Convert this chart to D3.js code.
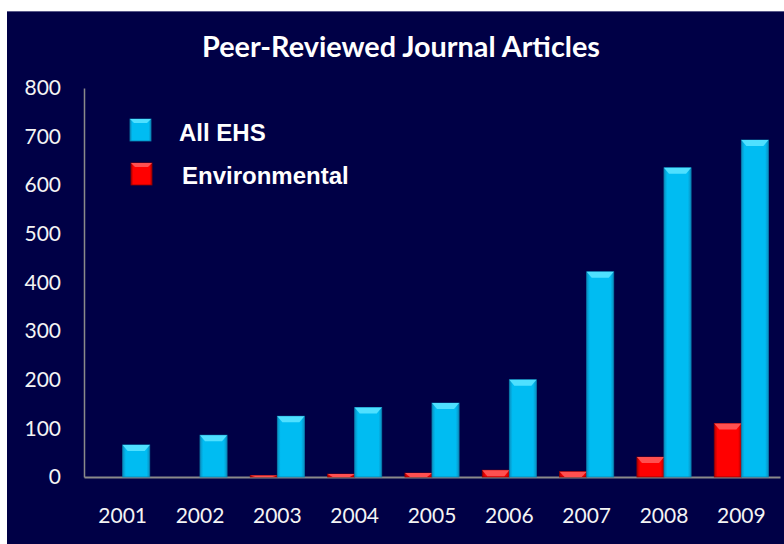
<!DOCTYPE html>
<html><head><meta charset="utf-8">
<script src="https://cdn.jsdelivr.net/npm/d3@7"></script>
<style>html,body{margin:0;padding:0;background:#fff;}svg{display:block;}</style>
</head><body>
<script>
const years = ["2001","2002","2003","2004","2005","2006","2007","2008","2009"];
const allEHS = [66, 86, 125, 143, 152, 200, 422, 636, 693];
const environmental = [0, 0, 3, 6, 8, 14, 11, 41, 110];
const yTicks = [0,100,200,300,400,500,600,700,800];
const seriesNames = ["Environmental","All EHS"];
const title = "Peer-Reviewed Journal Articles";

(function(){
const W = 784, H = 544;
const svg = d3.select("body").append("svg").attr("width", W).attr("height", H);
const defs = svg.append("defs");
function grad(id, edge, mid) {
  const g = defs.append("linearGradient").attr("id", id).attr("x1","0").attr("x2","1").attr("y1","0").attr("y2","0");
  g.append("stop").attr("offset","0").attr("stop-color", edge);
  g.append("stop").attr("offset","0.12").attr("stop-color", mid);
  g.append("stop").attr("offset","0.88").attr("stop-color", mid);
  g.append("stop").attr("offset","1").attr("stop-color", edge);
}
grad("gBlue", "#0a8fc0", "#00bcf2");
grad("gRed", "#b00000", "#ff0000");

svg.append("rect").attr("x",7).attr("y",11).attr("width",W-7).attr("height",H-11).attr("fill","#000046");
svg.append("line").attr("x1",7).attr("x2",W).attr("y1",11.5).attr("y2",11.5).attr("stroke","#5a5a8a").attr("stroke-width",1);

const pLeft = 84, pRight = 780, pTop = 88, pBottom = 477;
const x0 = d3.scaleBand().domain(years).range([pLeft, pRight]).paddingInner(0.3).paddingOuter(0.15);
const x1 = d3.scaleBand().domain(seriesNames).range([0, x0.bandwidth()]);
const y = d3.scaleLinear().domain([0, 800]).range([pBottom, pTop]);

svg.append("text").attr("x", 401).attr("y", 57).attr("text-anchor","middle")
  .attr("font-family","Lato").attr("font-weight","bold").attr("font-size",29)
  .attr("fill","#fff").attr("textLength",398).attr("lengthAdjust","spacingAndGlyphs").text(title);

const yAxis = svg.append("g").attr("transform",`translate(${pLeft},0)`)
  .call(d3.axisLeft(y).tickValues(yTicks).tickSize(0).tickPadding(23));
yAxis.select(".domain").attr("stroke","#8a8a8a").attr("stroke-width",1.5);
yAxis.selectAll("text").attr("font-family","Lato").attr("font-size",21).attr("fill","#f4f4f4");

const xAxis = svg.append("g").attr("transform",`translate(0,${pBottom})`)
  .call(d3.axisBottom(x0).tickSize(0).tickPadding(31));
xAxis.select(".domain").attr("stroke","#8a8a8a").attr("stroke-width",2);
xAxis.selectAll("text").attr("font-family","Lato").attr("font-size",21).attr("fill","#f4f4f4");

function drawSeries(name, vals, fillId, capColor, edge) {
  const g = svg.append("g");
  years.forEach((yr, i) => {
    const v = vals[i];
    if (v <= 0) return;
    const bx = x0(yr) + x1(name), bw = x1.bandwidth();
    const by = y(v), bh = y(0) - y(v);
    g.append("rect").attr("x",bx).attr("y",by).attr("width",bw).attr("height",bh)
      .attr("fill",`url(#${fillId})`).attr("stroke",edge).attr("stroke-width",0.8);
    const cap = Math.min(6, bh);
    const inset = Math.min(5, bw/4);
    g.append("path").attr("d",`M${bx},${by}L${bx+bw},${by}L${bx+bw-inset},${by+cap}L${bx+inset},${by+cap}Z`)
      .attr("fill",capColor);
  });
}
drawSeries("Environmental", environmental, "gRed", "#ff5050", "#900000");
drawSeries("All EHS", allEHS, "gBlue", "#4fe0ff", "#0a7fae");

const legend = [
  {name:"All EHS", fill:"gBlue", cap:"#4fe0ff", edge:"#0a7fae", sx:130, sy:119, tx:179, ty:141},
  {name:"Environmental", fill:"gRed", cap:"#ff5050", edge:"#900000", sx:131, sy:163, tx:182, ty:184}
];
legend.forEach(l => {
  svg.append("rect").attr("x",l.sx).attr("y",l.sy).attr("width",21).attr("height",22)
    .attr("fill",`url(#${l.fill})`).attr("stroke",l.edge).attr("stroke-width",0.8);
  svg.append("path").attr("d",`M${l.sx},${l.sy}L${l.sx+21},${l.sy}L${l.sx+17},${l.sy+4}L${l.sx+4},${l.sy+4}Z`).attr("fill",l.cap);
  svg.append("text").attr("x",l.tx).attr("y",l.ty).attr("font-family","Liberation Sans, Arial").attr("font-weight","bold")
    .attr("font-size",24).attr("fill","#fff").text(l.name);
});
})();
</script>
</body></html>
